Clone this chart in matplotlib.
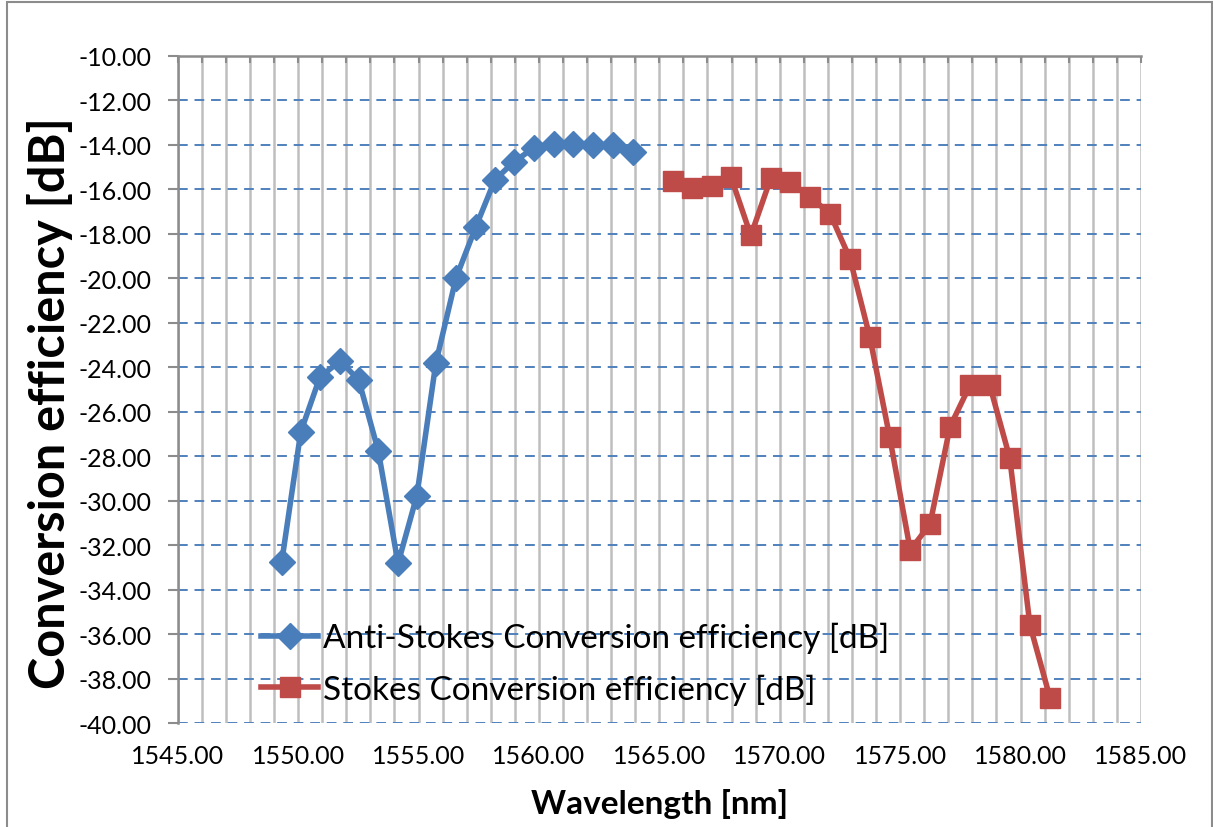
import matplotlib
matplotlib.use("Agg")
import matplotlib.pyplot as plt
from matplotlib.ticker import MultipleLocator, FormatStrFormatter
from matplotlib.patches import Rectangle

plt.rcParams['font.family'] = ['Lato', 'DejaVu Sans']

# anti-Stokes side (blue diamonds)
as_wl = [1549.32, 1550.11, 1550.90, 1551.75, 1552.52, 1553.33, 1554.15, 1554.93,
         1555.72, 1556.56, 1557.38, 1558.17, 1558.96, 1559.79, 1560.62, 1561.41,
         1562.24, 1563.07, 1563.90]
as_ce = [-32.74, -26.90, -24.45, -23.70, -24.58, -27.76, -32.81, -29.77,
         -23.80, -19.97, -17.68, -15.57, -14.76, -14.13, -13.95, -13.97,
         -14.00, -14.02, -14.31]

# Stokes side (red squares)
st_wl = [1565.55, 1566.34, 1567.17, 1567.97, 1568.80, 1569.63, 1570.43, 1571.26,
         1572.09, 1572.92, 1573.74, 1574.57, 1575.42, 1576.24, 1577.07, 1577.90,
         1578.72, 1579.55, 1580.39, 1581.22]
st_ce = [-15.64, -15.94, -15.85, -15.43, -18.07, -15.49, -15.67, -16.34,
         -17.09, -19.12, -22.63, -27.15, -32.21, -31.05, -26.67, -24.80,
         -24.80, -28.06, -35.58, -38.84]

blue = '#4A7EBB'
red = '#BE4B48'

W, H = 1213, 828
fig = plt.figure(figsize=(W / 100, H / 100), dpi=100)
ax = fig.add_axes([0.1465, 0.1252, 0.7941, 0.806])

# chart border
fig.patches.append(Rectangle((7 / W, -0.01), 1205 / W, 1 - 3 / H + 0.01,
                             transform=fig.transFigure, fill=False,
                             edgecolor='#8C8C8C', linewidth=1.5))

ax.plot(as_wl, as_ce, color=blue, lw=4, marker='D', ms=13,
        label='Anti-Stokes Conversion efficiency [dB]', zorder=5)
ax.plot(st_wl, st_ce, color=red, lw=4, marker='s', ms=14,
        label='Stokes Conversion efficiency [dB]', zorder=5)

ax.set_xlim(1545, 1585)
ax.set_ylim(-40, -10)
ax.xaxis.set_major_locator(MultipleLocator(5))
ax.xaxis.set_minor_locator(MultipleLocator(1))
ax.yaxis.set_major_locator(MultipleLocator(2))
ax.xaxis.set_major_formatter(FormatStrFormatter('%.2f'))
ax.yaxis.set_major_formatter(FormatStrFormatter('%.2f'))

ax.grid(which='both', axis='x', color='#BEBEBE', lw=1.8, zorder=0)
ax.grid(which='major', axis='y', color='#4F81BD', lw=1.4,
        linestyle=(0, (5, 3.5)), zorder=1)
ax.set_axisbelow(True)

for s in ['right', 'bottom']:
    ax.spines[s].set_visible(False)
for s in ['left', 'top']:
    ax.spines[s].set_color('#8C8C8C')
    ax.spines[s].set_linewidth(1.8)

ax.tick_params(axis='x', which='both', bottom=False, top=True, direction='in',
               labelbottom=True, labeltop=False, length=5, width=1.5,
               color='#8C8C8C', labelsize=18, pad=15)
ax.tick_params(axis='y', which='major', left=True, direction='out', length=7,
               width=1.5, color='#8C8C8C', labelsize=18, pad=12)

fig.text(660 / W, 1 - 804 / H, 'Wavelength [nm]', fontsize=24,
         fontweight='bold', ha='center', va='center')
fig.text(50 / W, 1 - 403 / H, 'Conversion efficiency [dB]', fontsize=35,
         fontweight='bold', rotation=90, ha='center', va='center')

ax.legend(loc='upper left', bbox_to_anchor=(0.073, 0.172), frameon=False,
          fontsize=24, handlelength=1.7, handletextpad=0.15, labelspacing=0.62,
          borderaxespad=0)

fig.savefig('out.png', dpi=100)
